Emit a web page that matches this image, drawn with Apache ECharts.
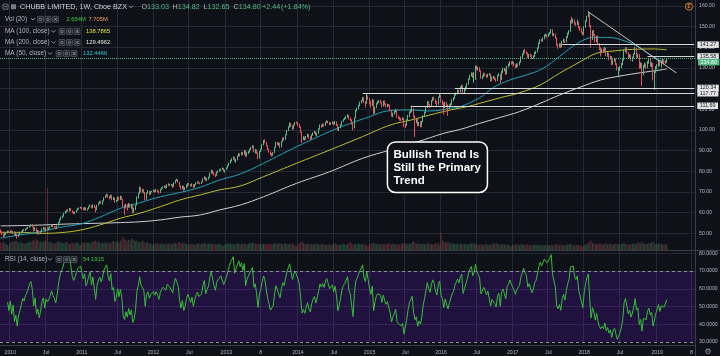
<!DOCTYPE html>
<html>
<head>
<meta charset="utf-8">
<title>CHUBB LIMITED, 1W, Cboe BZX</title>
<script src="https://cdn.jsdelivr.net/npm/echarts@6/dist/echarts.min.js"></script>
<style>
html,body{margin:0;padding:0;background:#0e1118;}
#chart{width:720px;height:356px;}
</style>
</head>
<body>
<div id="chart"></div>
<script>
// ================= DATA =================
const firstWeek = '2009-11-16';
const weekCount = 505;

// weekly candles: [open, high, low, close]
const candles2009 = [[51.2,52.0,50.1,50.6],[50.7,51.1,49.1,49.4],[49.5,50.0,48.2,48.7],[48.8,50.1,48.5,49.6],[49.5,50.7,49.2,50.3],[50.4,51.3,50.0,50.8],[50.9,51.2,50.1,50.4]];
const candles2010 = [
[50.5,51.4,50.2,50.9],[51.0,51.5,49.8,50.1],[50.2,51.0,49.9,50.7],[50.6,50.9,48.9,49.3],
[49.4,50.2,48.8,49.8],[49.7,49.9,47.4,48.5],[48.6,49.9,48.3,49.6],[49.6,50.5,49.2,50.1],
[50.2,51.1,49.9,50.8],[50.9,51.9,50.6,51.6],[51.7,52.1,51.0,51.3],[51.3,52.3,51.0,52.0],[52.1,52.7,51.8,52.3],
[52.4,53.2,52.2,52.9],[53.0,53.9,52.7,53.6],[53.5,54.4,53.1,53.9],[54.0,54.5,52.9,53.2],
[53.1,53.4,50.9,51.6],[51.7,52.9,51.2,52.6],[52.5,52.8,50.1,50.6],[50.5,51.6,49.6,51.2],[51.1,51.4,49.3,50.0],
[50.1,51.1,49.6,50.8],[50.9,52.4,50.6,52.1],[52.0,53.1,51.8,52.6],[52.5,52.8,51.0,51.3],
[51.2,52.9,50.9,52.6],[52.7,53.0,51.7,52.2],[52.1,52.9,51.5,52.6],[52.7,53.5,52.3,53.1],
[53.2,54.3,53.0,53.8],[53.9,54.2,52.9,53.3],[53.2,53.7,52.6,53.0],[53.0,53.3,52.0,52.5],[52.4,53.8,52.2,53.5],
[53.6,55.5,53.4,55.2],[55.3,56.9,55.0,56.6],[56.7,58.1,56.4,57.8],[57.9,58.7,57.3,58.3],
[58.4,59.9,58.1,59.6],[59.7,60.8,59.4,60.4],[60.5,61.5,60.2,61.1],[61.2,61.7,60.5,60.9],
[61.0,62.3,60.7,61.8],[61.9,62.2,60.6,61.0],[60.9,61.2,59.7,60.1],[60.2,60.5,59.2,59.7],[59.6,60.6,59.4,60.3],
[60.4,61.4,60.1,61.1],[61.2,62.2,60.9,61.9],[62.0,62.6,61.6,62.3],[62.3,62.8,62.0,62.5]];
const candles2011 = [
[62.4,62.9,61.6,62.0],[62.1,62.5,61.1,61.5],[61.6,62.7,61.3,62.3],[62.2,62.6,60.9,61.3],[61.4,62.1,61.0,61.8],
[61.9,63.1,61.7,62.8],[62.9,63.9,62.6,63.5],[63.4,63.7,62.0,62.4],[62.5,64.0,62.2,63.7],
[63.6,63.9,62.3,62.6],[62.5,62.9,60.1,61.4],[61.5,63.8,61.2,63.6],[63.7,64.9,63.4,64.7],
[64.8,65.7,64.5,65.3],[65.2,65.6,64.2,64.8],[64.7,65.9,63.9,65.6],[65.7,67.5,65.5,67.2],
[67.3,68.4,67.0,68.0],[68.1,69.2,67.8,68.6],[68.5,68.9,67.1,67.5],[67.4,68.0,66.5,67.0],[67.1,68.8,66.9,68.5],
[68.4,68.6,66.0,66.6],[66.5,67.6,66.1,67.1],[67.0,67.3,64.8,65.2],[65.3,66.3,65.0,65.9],
[65.9,67.8,65.6,67.5],[67.4,67.7,65.9,66.4],[66.5,68.2,66.1,67.8],[67.7,68.0,66.2,66.6],
[66.4,66.7,62.9,63.4],[63.3,64.0,58.9,62.6],[62.7,64.3,62.1,63.9],[63.8,64.1,61.0,62.8],[62.9,64.7,62.4,64.3],
[64.1,64.4,62.4,63.0],[62.9,64.3,61.9,63.9],[63.8,64.0,59.8,61.2],[61.3,62.4,59.9,61.8],
[61.9,63.9,61.2,63.5],[63.6,67.9,63.4,67.6],[67.5,69.7,66.8,69.3],[69.4,72.6,69.0,72.2],[72.0,72.4,69.8,70.6],
[70.5,71.6,69.6,70.9],[70.8,71.3,69.3,69.8],[69.7,70.0,66.0,66.3],[66.5,69.8,66.2,69.5],
[69.6,70.9,69.2,70.4],[70.3,70.6,68.5,68.9],[69.0,70.4,68.7,70.1],[70.1,70.6,69.8,70.2]];
const candles2012 = [
[70.3,71.2,69.9,70.8],[70.9,71.1,69.7,70.1],[70.2,71.4,70.0,71.0],[71.1,71.3,69.9,70.3],[70.2,70.6,69.2,69.6],
[69.7,71.5,69.5,71.2],[71.3,72.3,71.0,71.9],[72.0,72.7,71.6,72.4],[72.3,73.1,72.0,72.8],
[72.9,73.2,71.6,72.1],[72.2,73.7,71.9,73.4],[73.5,74.2,73.1,73.8],[73.7,74.0,72.8,73.2],
[73.3,73.9,72.9,73.5],[73.4,73.7,72.0,72.6],[72.7,74.7,72.4,74.4],[74.5,75.9,74.1,75.6],[75.7,76.4,75.3,75.9],
[75.8,76.1,74.4,74.8],[74.7,75.0,72.5,72.8],[72.7,73.1,71.1,71.6],[71.7,73.2,71.4,72.9],
[72.8,73.0,70.6,71.2],[71.3,72.3,70.8,71.9],[72.0,73.6,71.7,73.3],[73.2,74.4,72.6,74.1],
[74.0,74.3,73.2,73.6],[73.5,73.8,72.5,72.9],[73.0,74.2,72.7,73.8],[73.7,73.9,71.8,72.4],[72.5,73.8,72.2,73.5],
[73.6,74.7,73.3,74.4],[74.5,75.2,74.1,74.9],[74.8,75.1,74.0,74.3],[74.3,74.6,73.7,74.1],
[74.2,75.1,73.9,74.8],[74.9,76.6,74.7,76.3],[76.4,77.6,76.1,77.2],[77.1,77.3,75.3,75.6],
[75.7,76.8,75.4,76.4],[76.5,77.4,76.0,77.0],[77.1,79.3,76.9,79.0],[79.1,80.8,78.8,80.3],[80.2,80.6,78.9,79.4],
[79.3,79.7,77.9,78.6],[78.5,78.9,77.2,78.0],[78.1,79.9,77.8,79.6],[79.7,80.5,79.3,80.2],
[80.1,81.0,79.8,80.6],[80.7,81.5,80.3,81.0],[81.1,81.9,80.7,81.4],[81.3,81.6,79.9,80.3],[80.2,80.8,79.4,80.5]];
const candles2013 = [
[80.9,82.0,80.7,81.6],[81.7,83.2,81.4,82.8],[82.9,84.3,82.6,84.0],[84.1,85.6,83.8,85.3],
[85.2,86.3,84.8,85.9],[86.0,87.2,85.7,86.8],[86.7,87.0,84.6,85.2],[85.3,86.0,84.2,85.4],
[85.5,87.6,85.3,87.3],[87.4,88.8,87.1,88.5],[88.4,88.7,87.2,87.9],[88.0,89.3,87.7,89.0],
[89.1,89.5,87.8,88.2],[88.3,90.4,88.0,90.1],[90.0,90.3,86.9,87.4],[87.5,89.3,87.2,89.0],[89.1,89.8,88.5,89.2],
[89.3,90.9,89.0,90.6],[90.7,91.8,90.3,91.4],[91.5,92.7,91.1,92.2],[92.1,92.4,89.2,89.6],
[89.7,90.8,88.6,90.4],[90.3,90.6,88.4,88.9],[88.8,89.2,85.9,86.5],[86.6,89.8,86.1,89.5],
[89.6,91.0,89.3,90.6],[90.7,93.1,90.4,92.8],[92.9,95.2,92.6,94.6],[94.5,95.5,93.6,94.0],[93.9,94.3,92.0,92.3],
[92.2,92.6,90.3,90.6],[90.5,91.0,89.0,89.4],[89.3,89.7,87.7,88.1],[88.2,88.9,87.2,87.7],
[87.8,89.3,87.5,88.9],[89.0,91.9,88.8,91.6],[91.7,94.3,91.4,93.9],[93.8,94.2,92.7,93.2],[93.1,94.0,92.4,93.6],
[93.5,93.8,91.2,91.8],[91.9,94.6,91.6,94.3],[94.4,96.3,94.1,95.9],[95.8,96.6,94.9,95.4],
[95.5,97.9,95.2,97.6],[97.7,100.1,97.4,99.8],[99.9,101.8,99.5,101.5],[101.6,103.6,101.2,103.2],
[103.1,103.5,101.4,101.9],[101.8,102.3,100.1,100.6],[100.7,102.8,100.3,102.4],[102.5,103.9,102.2,103.6],[103.7,104.1,103.0,103.5]];
const candles2014 = [
[103.4,103.8,101.9,102.4],[102.5,103.0,101.0,101.5],[101.4,101.8,98.6,99.0],[98.9,99.3,93.7,95.6],
[95.7,97.0,95.1,96.4],[96.3,96.8,94.8,95.5],[95.6,97.1,95.3,96.8],[96.9,98.2,96.5,97.8],
[97.7,98.1,95.7,96.4],[96.5,97.0,95.2,95.8],[95.9,97.9,95.6,97.5],[97.6,98.9,97.2,98.6],[98.7,99.5,98.2,99.1],
[99.0,99.4,97.4,97.9],[97.8,98.7,96.9,98.3],[98.4,100.8,98.1,100.4],[100.5,102.7,100.2,102.3],
[102.2,102.6,101.1,101.8],[101.9,103.1,101.5,102.7],[102.6,103.0,101.6,102.1],[102.2,104.0,101.9,103.7],
[103.8,104.7,103.4,104.3],[104.2,104.5,103.1,103.6],[103.5,103.9,102.3,102.9],[103.0,103.7,102.5,103.3],[103.4,104.1,102.9,103.7],
[103.6,104.0,102.3,102.8],[102.9,104.3,102.5,103.9],[103.8,104.2,102.0,102.6],[102.5,102.9,99.7,100.2],
[100.3,101.6,99.5,101.2],[101.3,102.8,100.9,102.4],[102.5,104.5,102.1,104.2],[104.3,105.4,103.9,105.1],
[105.2,106.0,104.8,105.6],[105.7,106.7,105.3,106.3],[106.4,107.6,106.0,107.2],[107.1,107.4,105.0,105.4],[105.5,106.0,104.3,104.9],
[104.8,105.2,102.6,103.1],[103.0,103.5,99.8,101.0],[101.1,106.1,100.8,105.8],[105.9,109.7,105.6,109.3],
[109.4,110.8,109.0,110.4],[110.5,112.2,110.1,111.8],[111.9,113.6,111.5,113.2],[113.3,114.6,112.9,114.2],
[114.3,116.0,113.9,115.6],[115.5,115.9,113.0,113.4],[113.3,114.0,110.9,112.8],[112.9,117.8,112.6,116.3],[116.2,116.8,114.6,114.9]];
const candles2015 = [
[115.0,115.4,112.3,113.1],[113.2,114.1,110.9,111.9],[112.0,115.0,111.6,114.4],[114.3,114.7,107.6,108.1],
[108.2,111.3,107.8,110.9],[111.0,113.1,110.6,112.8],[112.9,114.0,112.4,113.6],[113.5,114.5,113.0,114.0],
[114.1,114.6,112.8,113.4],[113.3,113.7,111.0,111.6],[111.7,114.2,111.3,113.8],[113.9,114.3,112.0,112.4],[112.3,112.9,110.9,111.5],
[111.6,112.7,111.0,112.2],[112.1,112.6,111.3,111.9],[111.8,112.2,109.1,109.5],[109.4,109.8,106.4,106.9],
[107.0,108.4,106.2,108.0],[108.1,109.2,107.5,108.8],[108.9,110.1,108.5,109.7],[109.6,110.0,106.0,106.4],
[106.3,106.9,105.3,105.8],[105.7,106.3,104.5,105.4],[105.3,105.9,104.3,105.2],[105.3,106.2,104.8,105.6],[105.5,105.8,101.3,102.6],
[102.5,103.2,100.9,102.1],[102.2,105.2,101.9,104.8],[104.9,107.4,104.5,107.0],[107.1,109.0,106.3,108.7],
[108.8,110.0,108.2,109.4],[109.5,111.7,108.6,110.2],[110.1,110.5,105.9,106.6],[106.5,107.0,96.6,104.6],[104.5,105.6,103.2,105.2],
[105.1,105.5,101.6,102.4],[102.5,103.9,101.9,103.5],[103.6,104.2,101.2,102.6],[102.5,104.4,101.5,104.0],
[104.1,107.2,103.8,106.8],[106.9,108.9,106.5,108.4],[108.5,111.3,108.1,110.9],[111.0,113.9,110.6,113.5],
[113.4,114.0,111.8,112.2],[112.1,112.6,110.7,111.4],[111.5,114.5,111.2,114.1],[114.2,116.0,113.8,115.6],[115.5,116.1,114.3,114.8],
[114.7,115.1,112.6,113.3],[113.2,114.0,111.2,112.5],[112.6,116.2,112.2,115.8],[115.9,117.8,115.6,116.9]];
const candles2016 = [
[116.6,117.0,113.2,113.8],[113.9,114.6,112.0,113.0],[112.9,113.4,107.4,110.8],[110.9,113.7,110.5,113.2],
[113.1,113.6,111.0,112.0],[111.9,112.4,106.8,110.6],[110.7,112.4,110.2,112.1],[112.2,113.0,111.1,112.4],[112.5,115.0,112.1,114.6],
[114.7,115.8,113.9,115.3],[115.4,117.6,115.0,117.2],[117.3,118.1,116.6,117.6],[117.5,119.6,117.1,119.2],
[119.1,119.5,117.8,118.5],[118.6,121.0,118.2,120.6],[120.7,121.9,120.2,121.4],[121.3,121.7,117.3,117.8],
[117.9,119.8,117.4,119.3],[119.4,121.2,118.9,120.8],[120.9,122.7,120.4,122.3],[122.4,125.0,122.0,124.6],[124.7,126.6,124.3,126.2],
[126.3,127.9,125.9,127.4],[127.3,127.7,125.2,125.8],[125.9,128.0,122.9,126.9],[126.8,131.1,124.2,130.7],
[130.6,131.3,128.9,129.4],[129.5,130.6,128.8,130.1],[130.0,130.4,128.1,128.6],[128.5,128.9,124.8,125.3],
[125.4,126.4,124.6,125.9],[126.0,127.7,125.6,127.3],[127.2,127.6,126.1,126.6],[126.5,126.9,125.2,125.8],[125.9,127.2,125.5,126.8],
[126.7,127.5,126.3,126.9],[126.8,127.2,123.4,123.8],[123.9,125.9,123.5,125.4],[125.5,126.1,124.6,125.6],
[125.7,126.0,124.1,124.6],[124.5,125.0,123.3,123.9],[124.0,126.7,123.6,126.3],[126.4,127.5,125.9,127.0],[126.9,127.2,122.6,124.4],
[124.5,128.6,124.1,128.1],[128.2,130.1,127.5,128.9],[129.0,130.0,128.4,129.4],[129.3,129.7,126.6,127.1],
[127.2,131.0,126.9,130.6],[130.7,132.2,130.3,131.4],[131.5,133.3,131.1,132.9],[132.8,133.2,131.6,132.1]];
const candles2017 = [
[132.2,133.4,131.8,132.6],[132.5,132.9,130.7,131.2],[131.3,131.7,129.9,130.4],[130.5,132.2,130.1,131.7],[131.8,132.3,130.5,131.5],
[131.6,133.2,131.2,132.8],[132.9,135.6,132.5,135.2],[135.3,137.0,134.9,136.6],[136.7,138.7,136.3,138.3],
[138.4,139.2,137.1,137.6],[137.5,138.0,136.6,137.2],[137.1,137.5,134.9,135.4],[135.3,136.8,134.6,136.3],
[136.4,137.0,135.4,136.0],[135.9,136.3,134.4,134.9],[135.0,136.1,134.5,135.6],[135.7,137.7,135.3,137.2],
[137.3,138.3,136.8,137.8],[137.9,140.0,137.5,139.6],[139.7,142.3,139.3,141.9],[142.0,144.0,141.6,143.6],[143.5,144.1,142.6,143.1],
[143.2,144.8,142.8,144.3],[144.4,146.2,143.9,145.7],[145.8,146.6,145.2,145.9],[145.8,146.3,144.6,145.4],
[145.5,146.7,145.0,146.2],[146.3,147.5,145.8,147.0],[147.1,148.9,146.7,148.4],[148.3,148.7,145.5,146.0],[146.1,146.9,145.3,146.4],
[146.3,146.6,144.0,144.5],[144.4,144.8,140.7,141.2],[141.3,141.8,139.3,140.6],[140.7,142.0,139.9,141.4],
[141.5,141.9,139.6,140.3],[140.4,143.2,140.0,142.7],[142.8,144.2,142.3,143.6],[143.5,143.9,142.0,142.6],
[142.7,145.3,142.3,144.8],[144.9,147.1,144.5,146.6],[146.7,148.3,146.2,147.8],[147.9,153.1,147.5,152.3],[152.4,154.6,151.5,152.0],
[152.1,153.9,151.6,153.2],[153.1,153.5,150.9,151.4],[151.5,152.1,150.4,151.0],[151.1,153.4,150.8,152.1],
[152.0,152.4,149.1,149.6],[149.5,150.2,147.9,148.5],[148.6,149.3,146.8,147.3],[147.2,147.6,145.8,146.1]];
const candles2018 = [
[146.3,150.2,146.0,149.8],[149.9,153.0,149.5,152.6],[152.7,155.3,152.3,154.9],[155.0,157.5,154.6,156.2],[156.1,156.5,149.9,150.4],
[150.3,150.8,139.8,144.2],[144.3,148.2,143.5,147.6],[147.7,148.4,145.4,146.0],[145.9,146.5,142.3,142.8],
[142.9,145.6,142.4,145.0],[145.1,145.7,141.2,141.6],[141.5,142.0,138.6,139.4],[139.3,140.0,135.6,138.2],
[138.3,139.4,137.2,138.8],[138.7,139.5,137.3,137.9],[138.0,140.2,137.6,139.4],[139.3,139.8,135.7,136.2],[136.3,137.6,135.4,137.0],
[136.9,137.4,133.8,134.6],[134.7,136.0,134.1,135.4],[135.3,135.8,131.4,132.0],[132.1,134.1,131.6,133.6],
[133.7,134.9,133.1,134.2],[134.1,134.6,131.3,131.9],[131.8,132.3,128.8,129.4],[129.3,130.5,126.0,130.0],
[130.1,131.0,128.6,130.4],[130.5,132.4,129.9,131.8],[131.9,134.3,131.4,133.9],[134.0,139.0,133.6,138.4],[138.3,140.1,137.6,139.7],
[139.6,140.0,136.8,137.4],[137.3,137.7,134.6,135.1],[135.2,136.7,134.7,136.2],[136.1,136.5,133.5,133.9],
[134.0,135.5,133.1,135.0],[135.1,137.0,134.6,136.6],[136.7,140.2,136.3,139.2],[139.1,139.6,135.0,135.8],
[135.9,137.0,134.8,136.4],[136.3,136.8,129.6,130.6],[130.7,132.8,129.8,132.0],[131.9,132.4,121.3,127.0],[127.1,131.4,126.5,130.8],
[130.9,132.6,130.2,131.4],[131.3,132.2,129.4,130.2],[130.3,133.4,129.9,132.8],[132.9,134.4,132.0,133.8],
[133.9,134.6,130.6,131.4],[131.3,132.8,130.4,132.2],[132.1,132.5,124.0,126.8],[126.7,128.9,119.5,128.6],[128.7,131.0,127.6,130.6]];
const candles2019 = [
[130.7,131.9,129.4,130.9],[131.0,134.0,130.6,133.5],[133.4,133.9,130.8,131.2],[131.3,133.6,130.2,133.0],
[133.1,134.7,132.5,133.6],[133.5,134.2,131.8,132.6],[132.7,133.8,131.9,132.36],[133.03,134.82,132.65,134.80]];

// weekly volume, millions
const vol2009 = [3.8,3.2,4.1,3.5,3.0,2.6,1.9];
const vol2010 = [3.6,3.9,4.4,4.0,4.8,4.2,3.7,3.4,3.9,3.5,3.3,3.1,3.8,3.6,4.1,3.9,4.5,5.2,4.6,5.4,4.9,4.0,4.3,3.8,4.4,4.1,4.7,31.0,3.9,4.2,3.6,3.4,3.2,3.5,3.9,4.3,4.1,3.7,3.6,3.4,3.8,4.0,3.3,3.1,3.5,3.7,3.2,3.6,3.4,3.9,3.0,2.4];
const vol2011 = [3.8,3.5,3.7,3.4,3.6,3.9,3.3,3.5,4.1,4.4,4.8,3.9,4.2,3.6,3.4,3.8,3.3,3.9,3.5,3.2,3.7,3.4,4.3,4.6,4.1,3.9,4.2,3.8,4.5,5.3,6.4,5.6,4.9,4.5,5.1,4.7,5.8,5.4,4.9,4.4,4.6,4.2,3.9,3.7,4.8,4.1,3.5,3.9,3.6,3.2,3.4,2.5];
const vol2012 = [3.3,3.0,3.2,3.5,3.1,2.9,3.2,3.0,2.8,3.4,3.1,3.3,2.9,3.2,3.0,3.6,3.4,3.1,3.8,4.0,3.5,3.2,3.7,3.3,3.0,2.9,3.1,2.8,3.2,2.7,2.6,2.9,3.1,3.4,2.8,3.0,3.3,3.5,3.1,2.9,3.2,3.0,3.4,2.8,3.1,3.0,2.7,3.3,2.9,2.6,2.5,2.1,2.8];
const vol2013 = [3.1,3.4,3.0,3.3,2.9,3.2,2.8,3.0,3.5,3.2,2.9,3.1,3.4,3.0,3.3,2.8,3.1,3.6,3.2,3.8,3.5,3.3,3.0,3.4,2.9,3.1,2.8,3.2,3.0,2.7,2.9,3.3,3.1,2.8,3.0,3.4,3.2,2.9,3.5,3.1,3.3,2.9,3.2,3.6,3.0,2.8,3.1,2.9,3.3,2.6,2.4,2.0];
const vol2014 = [3.0,3.3,3.8,4.2,3.6,3.1,2.9,3.2,3.0,2.8,3.1,2.9,2.7,3.0,3.2,2.8,2.6,2.9,3.1,2.7,2.5,2.8,2.6,2.9,2.4,2.7,3.0,3.4,2.8,2.6,2.9,2.5,2.7,3.1,2.8,2.6,3.0,3.5,3.9,3.2,3.0,2.8,3.1,2.9,3.3,3.0,2.8,3.2,2.6,2.9,2.3,2.1];
const vol2015 = [3.2,3.0,3.4,3.8,3.3,2.9,3.1,2.8,3.0,2.7,3.1,2.9,3.3,2.8,3.5,3.0,2.7,3.2,2.9,2.6,2.8,3.0,2.7,3.1,3.4,3.6,3.2,3.0,2.9,3.3,3.1,3.8,4.6,3.5,3.2,3.0,3.4,2.9,3.1,3.3,3.0,2.8,3.2,3.5,2.9,3.1,2.8,3.0,3.4,3.2,3.6,2.4];
const vol2016 = [8.8,4.6,4.1,3.9,3.6,4.2,3.4,3.2,3.5,3.0,3.3,2.9,3.1,2.8,3.0,3.2,2.7,2.9,3.1,2.6,2.8,3.0,3.4,2.9,3.6,2.7,2.5,2.8,2.6,3.0,2.7,2.4,2.9,3.1,2.6,2.8,2.5,2.7,3.2,2.9,3.4,3.1,2.8,2.6,2.9,3.0,2.7,2.5,2.8,2.6,2.2,1.9];
const vol2017 = [2.8,2.5,2.7,2.9,2.6,2.4,2.8,3.0,2.6,2.5,2.7,2.9,2.4,2.6,2.3,2.5,2.8,2.6,2.4,2.7,2.5,2.3,2.6,2.4,2.8,2.5,2.2,2.4,2.6,2.3,2.5,2.7,3.0,2.6,2.4,2.8,2.5,2.3,2.6,2.4,2.7,2.9,3.2,2.6,2.5,2.3,2.7,2.4,2.6,2.5,2.2,1.8];
const vol2018 = [2.6,2.9,3.1,3.4,4.3,4.8,3.6,3.1,3.3,2.9,3.0,3.4,3.2,2.8,3.1,2.9,3.5,2.7,3.0,3.3,2.8,2.6,2.9,3.2,3.0,3.1,2.7,2.9,3.6,3.2,2.8,3.0,2.7,2.6,2.9,3.1,3.4,2.8,3.3,3.9,3.6,3.2,4.1,3.4,3.0,2.9,3.1,3.5,3.3,3.8,4.4,3.2,2.7];
const vol2019 = [3.1,3.3,2.9,3.4,2.8,2.6,3.0,2.654];

// time-axis ticks
const tickDates = ['2010-01-04','2010-07-05','2011-01-03','2011-07-04','2012-01-02','2012-07-02','2013-01-07','2013-07-01','2014-01-06','2014-07-07','2015-01-05','2015-07-06','2016-01-04','2016-07-04','2017-01-02','2017-07-03','2018-01-01','2018-07-02','2019-01-07','2019-07-01'];
const tickLabels = ['2010','Jul','2011','Jul','2012','Jul','2013','8','2014','Jul','2015','Jul','2016','Jul','2017','Jul','2018','Jul','2019','8'];

// moving averages: [week index, value]
const ma50Points = [[0,47.7],[14,49.2],[29,50.8],[43,52.9],[58,54.5],[72,57.8],[87,62.1],[101,64.8],[116,67.7],[130,69.7],[145,72.3],[159,75.8],[174,78.7],[191,83.9],[215,91.9],[239,99.2],[254,103.2],[268,106.4],[281,109.2],[298,109.7],[312,109.2],[327,110.5],[334,111.3],[348,115.6],[358,120.5],[370,124.2],[382,126.6],[394,129.8],[406,135.5],[419,141.9],[431,144.8],[441,144.8],[455,142.7],[465,139.5],[474,135.5],[484,132.45]];
const ma100Points = [[0,50.5],[14,50.5],[29,50.0],[43,50.3],[58,51.6],[72,54.0],[87,57.3],[101,59.7],[116,62.9],[130,66.1],[145,68.6],[159,71.0],[174,72.9],[191,77.4],[215,83.9],[239,90.3],[263,96.8],[283,102.4],[298,104.8],[312,107.3],[327,109.7],[341,111.6],[348,112.9],[363,115.6],[377,118.0],[392,121.8],[406,127.4],[421,133.0],[433,137.1],[445,138.2],[459,139.0],[474,139.2],[484,138.79]];
const ma200Points = [[0,53.6],[24,53.9],[48,54.5],[72,54.9],[87,55.2],[101,55.6],[116,56.5],[130,57.8],[145,58.9],[159,61.3],[174,63.7],[191,67.7],[215,74.2],[239,79.8],[263,86.3],[283,90.3],[303,94.3],[322,98.4],[334,100.3],[348,103.2],[363,106.1],[377,108.9],[392,112.9],[406,116.9],[421,120.7],[436,124.2],[450,126.1],[465,127.7],[479,129.0],[484,129.5]];

// drawings
const levelPrices = [141.27, 135.58, 120.34, 117.77, 111.69];
const levelStartWeeks = [408, 470, 330, 263, 298];
const trendLine = [[427, 157.1], [491, 127.6]];
const lastClose = 134.80;
const noteAnchor = [281, 94.2];
const noteText = 'Bullish Trend Is\nStill the Primary\nTrend';

// ================= BUILD =================
const BG = '#0e1118', GRID = '#252934', AXIS = '#3a3e49', TXT = '#b2b5be';
const UP = '#53b987', DN = '#eb4d5c';
const FONT = "'Liberation Sans', Arial, sans-serif";

const categories = [];
const t0 = Date.parse(firstWeek + 'T00:00:00Z');
for (let i = 0; i < weekCount; i++) categories.push(new Date(t0 + i * 7 * 86400000).toISOString().slice(0, 10));

const candles = [].concat(candles2009, candles2010, candles2011, candles2012, candles2013, candles2014, candles2015, candles2016, candles2017, candles2018, candles2019);
const volumes = [].concat(vol2009, vol2010, vol2011, vol2012, vol2013, vol2014, vol2015, vol2016, vol2017, vol2018, vol2019);
const closes = candles.map(r => r[3]);

const tickMap = {};
tickDates.forEach((d, k) => {
  const idx = categories.findIndex(c => c >= d);
  if (idx >= 0) tickMap[idx] = tickLabels[k];
});
const isTick = (i) => tickMap[i] !== undefined;

function wilderRsi(values, n) {
  const out = [];
  let ag = 0, al = 0;
  for (let i = 1; i < values.length; i++) {
    const d = values[i] - values[i - 1];
    const g = d > 0 ? d : 0, l = d < 0 ? -d : 0;
    const k = Math.min(i, n);
    ag = (ag * (k - 1) + g) / k;
    al = (al * (k - 1) + l) / k;
    if (i >= 5) out.push([i, al === 0 ? 100 : 100 - 100 / (1 + ag / al)]);
  }
  return out;
}
const rsiData = wilderRsi(closes, 14);

function xCfg(gridIndex, withLabels, withSplit, visible) {
  return {
    type: 'category', gridIndex, data: categories, boundaryGap: true, show: visible,
    offset: withLabels ? 3 : 0,
    axisLine: { show: withLabels, lineStyle: { color: AXIS, width: 1 } },
    axisTick: { show: false },
    axisLabel: { show: withLabels, interval: (i) => isTick(i), formatter: (v, i) => tickMap[i] || '', color: TXT, fontSize: 5.2, fontFamily: FONT, margin: 5 },
    splitLine: { show: withSplit, interval: (i) => isTick(i), lineStyle: { color: GRID, width: 1 } }
  };
}

const boxLabel = (txt) => ({
  show: true, position: 'end', distance: 3, formatter: txt,
  color: '#131722', backgroundColor: '#e4e4e4', padding: [1, 2.5, 0.5, 2.5],
  fontSize: 5.4, fontFamily: FONT
});

const markLines = levelPrices.map((p, k) => [
  { coord: [levelStartWeeks[k], p], lineStyle: { color: '#d8d8d8', width: 1, type: 'solid' }, label: boxLabel(p.toFixed(2)) },
  { coord: [weekCount - 1, p] }
]);
markLines.push([
  { coord: trendLine[0], lineStyle: { color: '#c4c4c4', width: 1, type: 'solid' }, label: { show: false } },
  { coord: trendLine[1] }
]);
markLines.push({
  yAxis: lastClose, lineStyle: { color: UP, width: 1, type: 'dotted' },
  label: {
    show: true, position: 'end', distance: 3, formatter: '{s| }\n{p|' + lastClose.toFixed(2) + '}',
    rich: { s: { height: 8, fontSize: 5 }, p: { color: '#ffffff', backgroundColor: UP, padding: [1, 2.5, 0.5, 2.5], fontSize: 5.4, fontFamily: FONT } }
  }
});

const gridBase = { left: 0, right: 25, containLabel: false, outerBoundsMode: 'none' };
const option = {
  backgroundColor: BG,
  animation: false,
  grid: [
    Object.assign({ top: -14.69, height: 268.7 }, gridBase),
    Object.assign({ top: 150, height: 100 }, gridBase),
    Object.assign({ top: 235.5, height: 106.5 }, gridBase)
  ],
  xAxis: [xCfg(0, false, true, true), xCfg(1, false, false, false), xCfg(2, true, true, true)],
  yAxis: [
    { type: 'value', gridIndex: 0, position: 'right', min: 40, max: 170, interval: 10,
      axisLine: { show: true, lineStyle: { color: AXIS } }, axisTick: { show: false },
      axisLabel: { color: TXT, fontSize: 5.2, fontFamily: FONT, margin: 4, formatter: v => v.toFixed(2), showMinLabel: false, showMaxLabel: false },
      splitLine: { show: true, showMinLine: false, showMaxLine: false, lineStyle: { color: GRID } } },
    { type: 'value', gridIndex: 1, min: 0, max: 50, show: false, splitLine: { show: false } },
    { type: 'value', gridIndex: 2, position: 'right', min: 30, max: 90, interval: 10,
      axisLine: { show: true, lineStyle: { color: AXIS } }, axisTick: { show: false },
      axisLabel: { color: TXT, fontSize: 5.2, fontFamily: FONT, margin: 4, formatter: v => v.toFixed(4), showMaxLabel: false },
      splitLine: { show: true, showMinLine: false, showMaxLine: false, lineStyle: { color: GRID } } }
  ],
  series: [
    { name: 'Vol', type: 'bar', xAxisIndex: 1, yAxisIndex: 1, barWidth: '80%', z: 1, silent: true,
      data: volumes.map((v, i) => ({ value: v, itemStyle: { color: candles[i][3] >= candles[i][0] ? 'rgba(83,185,135,0.32)' : 'rgba(235,77,92,0.34)' } })) },
    { name: 'MA 200', type: 'line', xAxisIndex: 0, yAxisIndex: 0, data: ma200Points, showSymbol: false, smooth: 0.4, z: 3,
      lineStyle: { color: '#d0d0d0', width: 1 } },
    { name: 'MA 100', type: 'line', xAxisIndex: 0, yAxisIndex: 0, data: ma100Points, showSymbol: false, smooth: 0.4, z: 3,
      lineStyle: { color: '#bdbd2e', width: 1 } },
    { name: 'MA 50', type: 'line', xAxisIndex: 0, yAxisIndex: 0, data: ma50Points, showSymbol: false, smooth: 0.4, z: 3,
      lineStyle: { color: '#1fa2b6', width: 1 } },
    { name: 'CB', type: 'candlestick', xAxisIndex: 0, yAxisIndex: 0, barWidth: 1, clip: false, z: 4,
      data: candles.map(r => [r[0], r[3], r[2], r[1]]),
      itemStyle: { color: UP, color0: DN, borderColor: UP, borderColor0: DN, borderWidth: 1 },
      markLine: { silent: true, symbol: ['none', 'none'], animation: false, data: markLines } },
    { name: 'RSI', type: 'line', xAxisIndex: 2, yAxisIndex: 2, data: rsiData, showSymbol: false, z: 3,
      lineStyle: { color: '#35bf35', width: 1 },
      markArea: { silent: true, itemStyle: { color: 'rgba(130,20,255,0.17)' }, data: [[{ yAxis: 70 }, { yAxis: 30 }]] },
      markLine: { silent: true, symbol: ['none', 'none'], label: { show: false },
        lineStyle: { color: '#8d909a', width: 1, type: [3, 3] }, data: [{ yAxis: 70 }, { yAxis: 30 }] } }
  ]
};

const chart = echarts.init(document.getElementById('chart'), null, { renderer: 'canvas' });
chart.setOption(option);

// ===== overlay texts (legend rows, note box) =====
function txt(x, y, s, color, size, weight) {
  return { type: 'text', x, y, silent: true, z: 50,
    style: { text: s, fill: color, font: (weight || 'normal') + ' ' + (size || 7.2) + 'px ' + FONT, verticalAlign: 'middle', align: 'left' } };
}
function chevron(x, y) {
  return { type: 'polyline', silent: true, z: 50, shape: { points: [[x, y - 1.2], [x + 2, y + 0.8], [x + 4, y - 1.2]] },
    style: { stroke: TXT, lineWidth: 0.8, fill: null } };
}
function buttons(x, y) {
  const out = [];
  for (let k = 0; k < 3; k++) {
    const bx = x + k * 7.5;
    out.push({ type: 'rect', silent: true, z: 50, shape: { x: bx, y: y - 3, width: 6, height: 6, r: 0.6 },
      style: { fill: '#262a33', stroke: '#5f636d', lineWidth: 0.6 } });
    if (k < 2) out.push({ type: 'circle', silent: true, z: 51, shape: { cx: bx + 3, cy: y, r: 1.2 }, style: { fill: null, stroke: '#9ea1aa', lineWidth: 0.6 } });
    else out.push({ type: 'polyline', silent: true, z: 51, shape: { points: [[bx + 1.5, y - 1.5], [bx + 4.5, y + 1.5], [bx + 3, y], [bx + 4.5, y - 1.5], [bx + 1.5, y + 1.5]] }, style: { fill: null, stroke: '#9ea1aa', lineWidth: 0.6 } });
  }
  return out;
}

const LS = 6.4, VS = 5.8;
const G = [];
// row 1
G.push({ type: 'rect', silent: true, z: 50, shape: { x: 3, y: 4.2, width: 5, height: 5 }, style: { fill: null, stroke: '#9598a1', lineWidth: 0.7 } });
G.push({ type: 'line', silent: true, z: 50, shape: { x1: 4, y1: 6.7, x2: 7, y2: 6.7 }, style: { stroke: '#9598a1', lineWidth: 0.7 } });
G.push({ type: 'rect', silent: true, z: 50, shape: { x: 11, y: 4.2, width: 5, height: 5 }, style: { fill: '#787b86' } });
G.push(txt(20, 7, 'CHUBB LIMITED, 1W, Cboe BZX', '#d1d4dc'));
G.push(chevron(129, 7));
[['O', 141.5, '133.03', 147], ['H', 172.5, '134.82', 177.7], ['L', 203.5, '132.65', 207.5], ['C', 233.5, '134.80', 238.7]].forEach(a => {
  G.push(txt(a[1], 7, a[0], TXT)); G.push(txt(a[3], 7, a[2], UP));
});
G.push(txt(262, 7, '+2.44', UP));
G.push(txt(281, 7, '(+1.84%)', UP));
// row 2
G.push(txt(5, 19.3, 'Vol (20)', TXT, LS)); G.push(chevron(31, 19.3)); G.push(...buttons(37.5, 19.3));
G.push(txt(66.5, 19.3, '2.654M', '#43c943', VS)); G.push(txt(88.5, 19.3, '7.705M', '#f0a060', VS));
// rows 3-5
G.push(txt(5, 31.5, 'MA (100, close)', TXT, LS)); G.push(chevron(51.5, 31.5)); G.push(...buttons(59, 31.5));
G.push(txt(86, 31.5, '138.7865', '#e6e33a', VS));
G.push(txt(5, 42.5, 'MA (200, close)', TXT, LS)); G.push(chevron(51.5, 42.5)); G.push(...buttons(59, 42.5));
G.push(txt(86, 42.5, '129.4962', '#e8e8e8', VS));
G.push(txt(5, 53.5, 'MA (50, close)', TXT, LS)); G.push(chevron(48, 53.5)); G.push(...buttons(56, 53.5));
G.push(txt(83, 53.5, '132.4466', '#2ec5d9', VS));
// RSI legend
G.push(txt(5, 259.5, 'RSI (14, close)', TXT, LS)); G.push(chevron(48, 259.5)); G.push(...buttons(56, 259.5));
G.push(txt(83, 259.5, '54.1915', '#43c943', VS));
// pane separator + right border
G.push({ type: 'line', silent: true, z: 40, shape: { x1: 0, y1: 250.5, x2: 720, y2: 250.5 }, style: { stroke: '#3a3e49', lineWidth: 1 } });
G.push({ type: 'line', silent: true, z: 40, shape: { x1: 695.5, y1: 0, x2: 695.5, y2: 356 }, style: { stroke: AXIS, lineWidth: 1 } });
// earnings marker
G.push({ type: 'circle', silent: true, z: 50, shape: { cx: 689, cy: 6.5, r: 3.6 }, style: { fill: BG, stroke: '#f08c2a', lineWidth: 0.9 } });
G.push({ type: 'text', silent: true, z: 51, x: 689, y: 6.7, style: { text: 'E', fill: '#f08c2a', font: 'bold 4.6px ' + FONT, align: 'center', verticalAlign: 'middle' } });
// gear
G.push({ type: 'text', silent: true, z: 51, x: 708, y: 352, style: { text: '\u2699', fill: '#9598a1', font: '8px DejaVu Sans', align: 'center', verticalAlign: 'middle' } });

// note box anchored in data coordinates
const np = chart.convertToPixel({ xAxisIndex: 0, yAxisIndex: 0 }, noteAnchor);
G.push({ type: 'rect', silent: true, z: 45, shape: { x: np[0], y: np[1], width: 100, height: 50.5, r: 8 },
  style: { fill: BG, stroke: '#ffffff', lineWidth: 1.5 } });
G.push({ type: 'text', silent: true, z: 46, x: np[0] + 6, y: np[1] + 6,
  style: { text: noteText, fill: '#ffffff', font: 'bold 11.5px ' + FONT, lineHeight: 13, verticalAlign: 'top', align: 'left' } });

chart.setOption({ graphic: { elements: G } });
</script>
</body>
</html>
